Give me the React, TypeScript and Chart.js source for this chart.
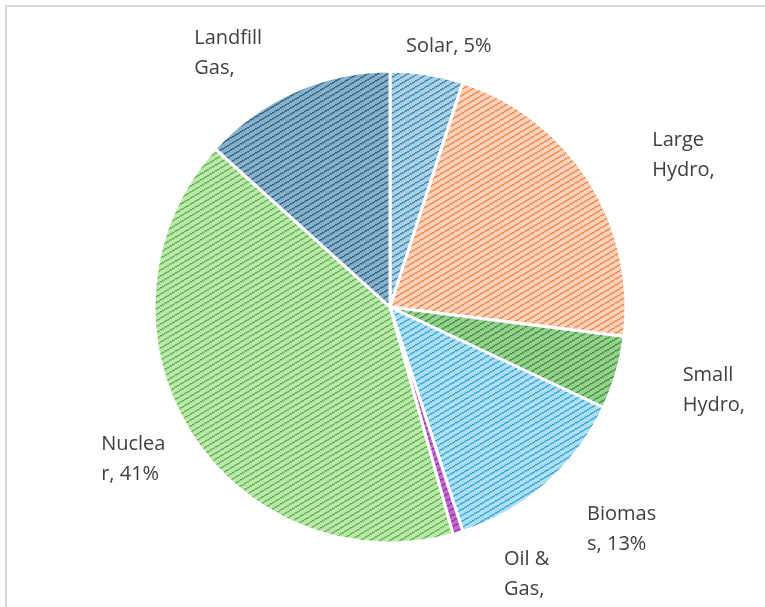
import React, { useEffect, useRef } from "react";
import { Chart, registerables } from "chart.js";

Chart.register(...registerables);

const categories = ["Solar", "Large Hydro", "Small Hydro", "Biomass", "Oil & Gas", "Nuclear", "Landfill Gas"];
const shares = [5, 22, 5, 13, 0.7, 41, 13.3];
const labelLines = [
  ["Solar, 5%"],
  ["Large", "Hydro,"],
  ["Small", "Hydro,"],
  ["Biomas", "s, 13%"],
  ["Oil &", "Gas,"],
  ["Nuclea", "r, 41%"],
  ["Landfill", "Gas,"],
];

// styling
const bgColors = ["#a9d2e8", "#fcd3ba", "#94d28e", "#ace0f6", "#c46ad2", "#bde8ad", "#86b0cc"];
const fgColors = ["#3a7a9e", "#e67d40", "#38873a", "#2f9acb", "#862898", "#52ad3e", "#2a5877"];
const labelOffsets = [
  [-21, -28],
  [63, -40],
  [66, 2],
  [41, 30],
  [46, 26],
  [-88, 13],
  [-100, -53],
];

function makePattern(bg: string, fg: string): CanvasPattern | string {
  const w = 10;
  const h = 6;
  const c = document.createElement("canvas");
  c.width = w;
  c.height = h;
  const g = c.getContext("2d");
  if (!g) return bg;
  g.fillStyle = bg;
  g.fillRect(0, 0, w, h);
  g.fillStyle = fg;
  for (let x = 0; x < w; x++) {
    const y = Math.round((w - 1 - x) * 0.6) % h;
    g.globalAlpha = x % 2 === 0 ? 1 : 0.8;
    g.fillRect(x, y, 1, 1);
    g.globalAlpha = 0.45;
    g.fillRect(x, (y + 1) % h, 1, 1);
  }
  g.globalAlpha = 1;
  const p = g.createPattern(c, "repeat");
  return p || bg;
}

const labelPlugin = {
  id: "pieLabels",
  afterDatasetsDraw(chart: any) {
    const ctx = chart.ctx;
    const meta = chart.getDatasetMeta(0);
    ctx.save();
    ctx.font = '20px "Open Sans", "Noto Sans", sans-serif';
    ctx.fillStyle = "#404040";
    ctx.textAlign = "left";
    ctx.textBaseline = "middle";
    meta.data.forEach((arc: any, i: number) => {
      const mid = (arc.startAngle + arc.endAngle) / 2;
      const mx = arc.x + Math.cos(mid) * arc.outerRadius;
      const my = arc.y + Math.sin(mid) * arc.outerRadius;
      const [dx, dy] = labelOffsets[i];
      labelLines[i].forEach((line, j) => {
        ctx.fillText(line, mx + dx, my + dy + j * 30);
      });
    });
    ctx.restore();
  },
};

export default function App() {
  const ref = useRef<HTMLCanvasElement>(null);
  useEffect(() => {
    if (!ref.current) return;
    const patterns = bgColors.map((b, i) => makePattern(b, fgColors[i]));
    const chart = new Chart(ref.current, {
      type: "pie",
      data: {
        labels: categories,
        datasets: [
          {
            data: shares,
            backgroundColor: patterns as any,
            borderColor: "#ffffff",
            borderWidth: 3,
            radius: 236,
          } as any,
        ],
      },
      options: {
        animation: false,
        responsive: false,
        maintainAspectRatio: false,
        layout: { padding: { left: 15, right: 0, top: 7, bottom: 0 } },
        plugins: {
          legend: { display: false },
          tooltip: { enabled: false },
          title: { display: false },
        },
      },
      plugins: [labelPlugin],
    });
    return () => chart.destroy();
  }, []);
  return (
    <div
      style={{
        position: "absolute",
        left: 0,
        top: 0,
        width: 765,
        height: 607,
        overflow: "hidden",
        background: "#ffffff",
      }}
    >
      <div
        style={{
          position: "absolute",
          left: 5,
          top: 5,
          width: 900,
          height: 800,
          border: "2px solid #d9d9d9",
        }}
      />
      <canvas ref={ref} width={765} height={607} style={{ position: "absolute", left: 0, top: 0 }} />
    </div>
  );
}
